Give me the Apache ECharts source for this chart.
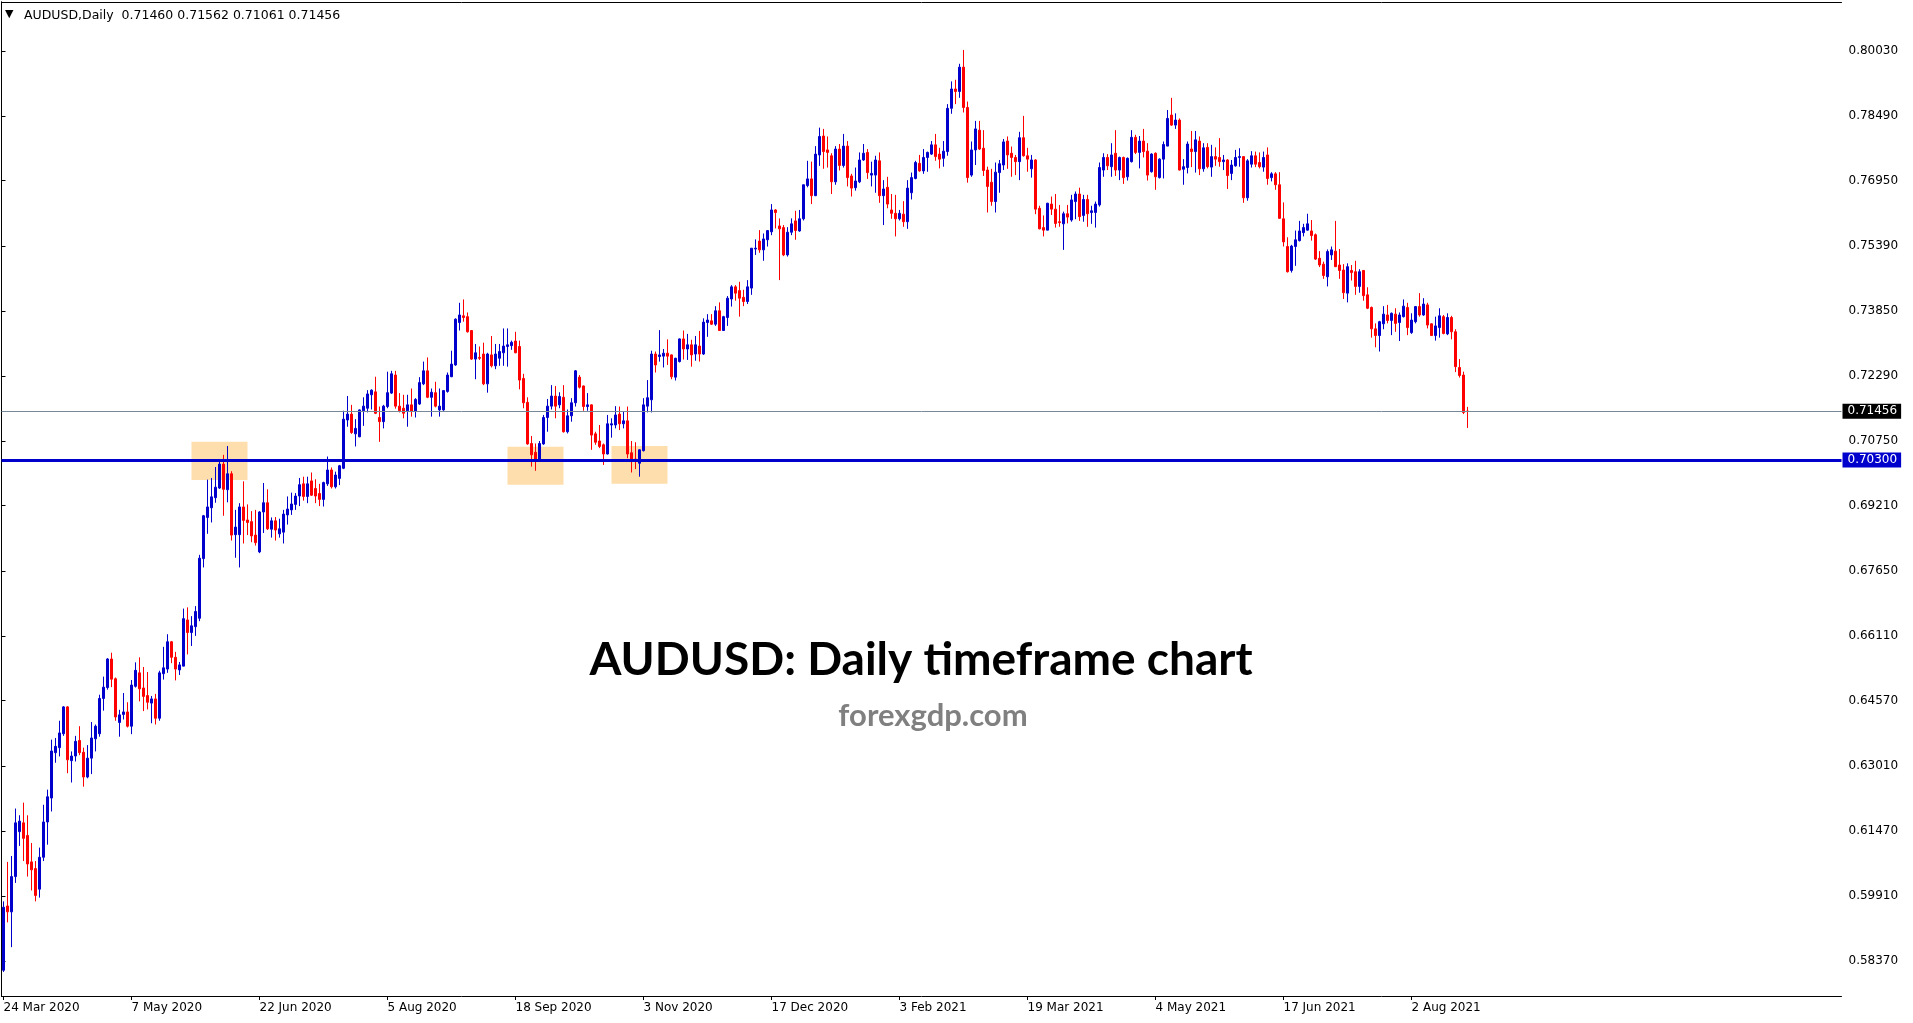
<!DOCTYPE html>
<html><head><meta charset="utf-8">
<script src="https://cdn.jsdelivr.net/npm/echarts@6/dist/echarts.min.js"></script>
<style>html,body{margin:0;padding:0;background:#fff;overflow:hidden}#c{width:1913px;height:1023px}</style>
</head><body><div id="c"></div>
<script>
const SYMBOL = 'AUDUSD';
const TIMEFRAME = 'Daily';
const START_DATE = '2020-03-24';
const SKIP_DAYS = ['12-25', '01-01'];
const MONTHS = ['Jan','Feb','Mar','Apr','May','Jun','Jul','Aug','Sep','Oct','Nov','Dec'];
const LABEL_EVERY = 32;
const TOTAL_SLOTS = 460;
const TITLE = 'AUDUSD: Daily timeframe chart';
const SUBTITLE = 'forexgdp.com';
const SUPPORT = 0.70300;
const Y_MIN = 0.57537, Y_MAX = 0.81201;
const Y_TICKS = [0.58370,0.59910,0.61470,0.63010,0.64570,0.66110,0.67650,0.69210,0.70750,0.72290,0.73850,0.75390,0.76950,0.78490,0.80030];
// zones: [first bar, last bar, low, high]
const ZONES = [[47,61,0.6982,0.7073],[126,140,0.6971,0.7061],[152,166,0.6973,0.7063]];
// daily candles: [open, high, low, close]
const OHLC = [
[0.5815,0.5979,0.5811,0.5965],[0.5968,0.6073,0.5929,0.5954],[0.5954,0.6087,0.5870,0.6038],[0.6038,0.6200,0.6023,0.6166],[0.6145,0.6184,0.6111,0.6170],[0.6166,0.6214,0.6075,0.6129],
[0.6136,0.6184,0.6038,0.6068],[0.6073,0.6118,0.6005,0.6054],[0.6057,0.6075,0.5979,0.5993],[0.6008,0.6107,0.5988,0.6084],[0.6084,0.6209,0.6075,0.6168],[0.6168,0.6245,0.6114,0.6228],
[0.6225,0.6364,0.6193,0.6337],[0.6333,0.6368,0.6309,0.6348],[0.6345,0.6409,0.6324,0.6380],[0.6378,0.6444,0.6373,0.6442],[0.6442,0.6444,0.6284,0.6316],[0.6314,0.6336,0.6262,0.6325],
[0.6325,0.6373,0.6312,0.6360],[0.6362,0.6396,0.6327,0.6333],[0.6334,0.6345,0.6252,0.6275],[0.6275,0.6351,0.6272,0.6320],[0.6320,0.6406,0.6282,0.6368],[0.6366,0.6400,0.6336,0.6396],
[0.6378,0.6471,0.6371,0.6462],[0.6462,0.6514,0.6433,0.6489],[0.6488,0.6558,0.6483,0.6556],[0.6556,0.6571,0.6489,0.6508],[0.6509,0.6512,0.6409,0.6418],[0.6405,0.6435,0.6371,0.6423],
[0.6424,0.6475,0.6412,0.6430],[0.6430,0.6453,0.6393,0.6396],[0.6396,0.6506,0.6377,0.6494],[0.6491,0.6548,0.6488,0.6529],[0.6523,0.6560,0.6455,0.6485],[0.6487,0.6537,0.6432,0.6467],
[0.6469,0.6525,0.6436,0.6453],[0.6451,0.6468,0.6403,0.6461],[0.6461,0.6473,0.6400,0.6415],[0.6415,0.6528,0.6409,0.6523],[0.6521,0.6585,0.6507,0.6535],[0.6532,0.6615,0.6523,0.6597],
[0.6597,0.6599,0.6546,0.6560],[0.6560,0.6573,0.6505,0.6532],[0.6530,0.6549,0.6518,0.6542],[0.6539,0.6676,0.6539,0.6652],[0.6649,0.6679,0.6567,0.6619],[0.6619,0.6658,0.6587,0.6635],
[0.6633,0.6682,0.6611,0.6669],[0.6653,0.6804,0.6646,0.6796],[0.6795,0.6899,0.6774,0.6897],[0.6893,0.6983,0.6854,0.6918],[0.6916,0.6987,0.6881,0.6942],[0.6940,0.7013,0.6928,0.6965],
[0.6963,0.7027,0.6961,0.7020],[0.7020,0.7042,0.6897,0.6960],[0.6959,0.7063,0.6929,0.6997],[0.6997,0.7003,0.6838,0.6851],[0.6852,0.6911,0.6797,0.6870],[0.6852,0.6927,0.6774,0.6918],
[0.6918,0.6979,0.6831,0.6886],[0.6887,0.6924,0.6851,0.6881],[0.6883,0.6908,0.6834,0.6849],[0.6851,0.6911,0.6826,0.6833],[0.6811,0.6908,0.6808,0.6906],[0.6906,0.6975,0.6856,0.6928],
[0.6928,0.6960,0.6863,0.6866],[0.6865,0.6893,0.6845,0.6885],[0.6885,0.6894,0.6838,0.6863],[0.6854,0.6890,0.6845,0.6866],[0.6858,0.6911,0.6831,0.6901],[0.6899,0.6943,0.6876,0.6913],
[0.6911,0.6952,0.6899,0.6925],[0.6924,0.6951,0.6911,0.6944],[0.6944,0.6987,0.6920,0.6971],[0.6973,0.6990,0.6933,0.6943],[0.6943,0.6990,0.6927,0.6973],[0.6980,0.7000,0.6944,0.6946],
[0.6962,0.6984,0.6927,0.6944],[0.6950,0.6973,0.6920,0.6936],[0.6936,0.6978,0.6919,0.6976],[0.6973,0.7038,0.6968,0.7006],[0.7006,0.7012,0.6962,0.6966],[0.6966,0.7002,0.6962,0.6994],
[0.6986,0.7018,0.6970,0.7016],[0.7010,0.7147,0.7008,0.7127],[0.7125,0.7182,0.7109,0.7139],[0.7139,0.7161,0.7092,0.7095],[0.7092,0.7127,0.7062,0.7105],[0.7085,0.7150,0.7084,0.7149],
[0.7147,0.7179,0.7111,0.7158],[0.7153,0.7196,0.7143,0.7187],[0.7185,0.7198,0.7150,0.7196],[0.7192,0.7228,0.7139,0.7141],[0.7131,0.7157,0.7073,0.7121],[0.7121,0.7161,0.7105,0.7158],
[0.7157,0.7240,0.7153,0.7190],[0.7189,0.7242,0.7187,0.7235],[0.7232,0.7242,0.7152,0.7158],[0.7158,0.7189,0.7143,0.7147],[0.7153,0.7185,0.7129,0.7141],[0.7147,0.7185,0.7109,0.7161],
[0.7161,0.7200,0.7133,0.7146],[0.7146,0.7177,0.7131,0.7174],[0.7163,0.7227,0.7161,0.7214],[0.7211,0.7264,0.7208,0.7242],[0.7242,0.7274,0.7177,0.7179],[0.7179,0.7200,0.7133,0.7191],
[0.7190,0.7216,0.7155,0.7158],[0.7149,0.7200,0.7133,0.7158],[0.7149,0.7196,0.7147,0.7195],[0.7193,0.7238,0.7190,0.7232],[0.7228,0.7290,0.7227,0.7258],[0.7256,0.7367,0.7254,0.7365],
[0.7357,0.7404,0.7338,0.7375],[0.7373,0.7412,0.7359,0.7369],[0.7371,0.7381,0.7333,0.7335],[0.7338,0.7339,0.7268,0.7270],[0.7270,0.7306,0.7222,0.7285],[0.7274,0.7300,0.7268,0.7272],
[0.7282,0.7309,0.7208,0.7211],[0.7211,0.7285,0.7190,0.7282],[0.7280,0.7325,0.7250,0.7254],[0.7254,0.7306,0.7246,0.7282],[0.7272,0.7306,0.7254,0.7288],[0.7285,0.7343,0.7254,0.7301],
[0.7300,0.7343,0.7252,0.7304],[0.7302,0.7314,0.7292,0.7310],[0.7313,0.7335,0.7284,0.7285],[0.7300,0.7314,0.7198,0.7220],[0.7224,0.7235,0.7153,0.7166],[0.7167,0.7179,0.7066,0.7068],
[0.7069,0.7087,0.7014,0.7042],[0.7048,0.7069,0.7004,0.7030],[0.7030,0.7075,0.7026,0.7069],[0.7068,0.7137,0.7066,0.7131],[0.7131,0.7175,0.7097,0.7158],[0.7158,0.7208,0.7150,0.7182],
[0.7182,0.7206,0.7129,0.7158],[0.7161,0.7191,0.7153,0.7181],[0.7179,0.7208,0.7095,0.7097],[0.7097,0.7150,0.7093,0.7135],[0.7135,0.7177,0.7121,0.7166],[0.7166,0.7244,0.7157,0.7242],
[0.7227,0.7232,0.7200,0.7203],[0.7206,0.7207,0.7147,0.7157],[0.7157,0.7189,0.7147,0.7161],[0.7161,0.7162,0.7054,0.7089],[0.7092,0.7097,0.7066,0.7072],[0.7075,0.7113,0.7058,0.7062],
[0.7066,0.7069,0.7018,0.7044],[0.7044,0.7137,0.7043,0.7116],[0.7113,0.7129,0.7083,0.7116],[0.7113,0.7158,0.7105,0.7137],[0.7139,0.7157,0.7101,0.7116],[0.7116,0.7146,0.7105,0.7123],
[0.7123,0.7157,0.7034,0.7044],[0.7047,0.7075,0.7000,0.7030],[0.7032,0.7072,0.7008,0.7030],[0.7022,0.7055,0.6990,0.7054],[0.7052,0.7177,0.7050,0.7161],[0.7158,0.7220,0.7143,0.7178],
[0.7173,0.7290,0.7143,0.7282],[0.7282,0.7288,0.7238,0.7256],[0.7276,0.7339,0.7264,0.7280],[0.7277,0.7294,0.7250,0.7284],[0.7284,0.7317,0.7256,0.7277],[0.7280,0.7281,0.7222,0.7228],
[0.7227,0.7273,0.7219,0.7272],[0.7264,0.7319,0.7262,0.7318],[0.7318,0.7338,0.7269,0.7294],[0.7294,0.7330,0.7268,0.7304],[0.7304,0.7316,0.7252,0.7280],[0.7282,0.7325,0.7266,0.7304],
[0.7301,0.7337,0.7264,0.7282],[0.7282,0.7367,0.7280,0.7358],[0.7357,0.7377,0.7323,0.7363],[0.7361,0.7377,0.7351,0.7353],[0.7353,0.7396,0.7349,0.7385],[0.7385,0.7405,0.7337,0.7338],
[0.7338,0.7373,0.7337,0.7371],[0.7369,0.7420,0.7349,0.7415],[0.7413,0.7446,0.7395,0.7442],[0.7442,0.7446,0.7409,0.7427],[0.7433,0.7454,0.7371,0.7415],[0.7417,0.7435,0.7396,0.7407],
[0.7407,0.7458,0.7401,0.7442],[0.7439,0.7534,0.7423,0.7534],[0.7532,0.7555,0.7518,0.7534],[0.7551,0.7577,0.7523,0.7530],[0.7530,0.7569,0.7504,0.7556],[0.7554,0.7577,0.7538,0.7576],
[0.7573,0.7639,0.7565,0.7625],[0.7625,0.7627,0.7581,0.7619],[0.7587,0.7605,0.7458,0.7580],[0.7583,0.7589,0.7515,0.7518],[0.7518,0.7584,0.7514,0.7572],[0.7572,0.7605,0.7565,0.7592],
[0.7599,0.7623,0.7554,0.7576],[0.7575,0.7625,0.7573,0.7604],[0.7604,0.7685,0.7600,0.7685],[0.7683,0.7742,0.7679,0.7699],[0.7699,0.7740,0.7639,0.7659],[0.7659,0.7777,0.7658,0.7758],
[0.7756,0.7821,0.7730,0.7800],[0.7801,0.7818,0.7723,0.7764],[0.7768,0.7800,0.7726,0.7762],[0.7754,0.7760,0.7663,0.7692],[0.7692,0.7777,0.7685,0.7770],[0.7770,0.7782,0.7719,0.7731],
[0.7731,0.7806,0.7726,0.7777],[0.7777,0.7789,0.7681,0.7702],[0.7706,0.7711,0.7657,0.7677],[0.7678,0.7726,0.7671,0.7694],[0.7692,0.7762,0.7689,0.7744],[0.7744,0.7782,0.7742,0.7760],
[0.7762,0.7770,0.7699,0.7714],[0.7708,0.7740,0.7681,0.7712],[0.7708,0.7754,0.7666,0.7744],[0.7742,0.7762,0.7642,0.7659],[0.7659,0.7696,0.7589,0.7675],[0.7679,0.7704,0.7629,0.7639],
[0.7625,0.7663,0.7604,0.7617],[0.7617,0.7661,0.7562,0.7604],[0.7604,0.7625,0.7600,0.7617],[0.7615,0.7646,0.7585,0.7597],[0.7597,0.7696,0.7580,0.7677],[0.7666,0.7714,0.7650,0.7702],
[0.7700,0.7742,0.7698,0.7738],[0.7736,0.7756,0.7716,0.7718],[0.7718,0.7770,0.7711,0.7750],[0.7750,0.7764,0.7716,0.7762],[0.7758,0.7789,0.7756,0.7780],[0.7780,0.7806,0.7742,0.7752],
[0.7758,0.7773,0.7724,0.7746],[0.7748,0.7789,0.7728,0.7765],[0.7764,0.7877,0.7754,0.7867],[0.7867,0.7931,0.7854,0.7913],[0.7913,0.7935,0.7877,0.7907],[0.7907,0.7973,0.7892,0.7965],
[0.7965,0.8006,0.7857,0.7869],[0.7869,0.7883,0.7690,0.7702],[0.7708,0.7788,0.7704,0.7768],[0.7768,0.7837,0.7732,0.7818],[0.7815,0.7837,0.7768,0.7770],[0.7772,0.7815,0.7706,0.7719],
[0.7720,0.7728,0.7619,0.7681],[0.7691,0.7723,0.7635,0.7645],[0.7645,0.7738,0.7619,0.7715],[0.7714,0.7744,0.7666,0.7735],[0.7732,0.7794,0.7720,0.7787],[0.7789,0.7800,0.7723,0.7756],
[0.7760,0.7776,0.7704,0.7750],[0.7750,0.7756,0.7708,0.7740],[0.7740,0.7811,0.7696,0.7797],[0.7797,0.7849,0.7752,0.7754],[0.7754,0.7773,0.7716,0.7746],[0.7723,0.7756,0.7702,0.7744],
[0.7744,0.7746,0.7615,0.7627],[0.7629,0.7635,0.7579,0.7580],[0.7583,0.7612,0.7562,0.7577],[0.7577,0.7642,0.7577,0.7641],[0.7639,0.7657,0.7613,0.7627],[0.7627,0.7663,0.7583,0.7593],
[0.7597,0.7637,0.7585,0.7595],[0.7592,0.7621,0.7530,0.7616],[0.7616,0.7637,0.7593,0.7608],[0.7601,0.7661,0.7597,0.7649],[0.7645,0.7669,0.7603,0.7663],[0.7663,0.7678,0.7599,0.7609],
[0.7612,0.7661,0.7597,0.7650],[0.7650,0.7661,0.7585,0.7616],[0.7619,0.7635,0.7592,0.7623],[0.7619,0.7645,0.7583,0.7639],[0.7637,0.7738,0.7633,0.7726],[0.7720,0.7760,0.7704,0.7750],
[0.7750,0.7758,0.7720,0.7730],[0.7728,0.7784,0.7704,0.7756],[0.7760,0.7815,0.7706,0.7720],[0.7720,0.7752,0.7696,0.7750],[0.7750,0.7752,0.7687,0.7702],[0.7704,0.7750,0.7695,0.7748],
[0.7740,0.7815,0.7738,0.7798],[0.7798,0.7804,0.7758,0.7762],[0.7762,0.7801,0.7724,0.7789],[0.7789,0.7818,0.7750,0.7764],[0.7765,0.7784,0.7695,0.7708],[0.7716,0.7760,0.7714,0.7758],
[0.7760,0.7762,0.7673,0.7704],[0.7702,0.7748,0.7700,0.7746],[0.7746,0.7788,0.7700,0.7781],[0.7777,0.7863,0.7777,0.7843],[0.7851,0.7892,0.7825,0.7827],[0.7827,0.7855,0.7818,0.7839],
[0.7839,0.7843,0.7719,0.7720],[0.7722,0.7746,0.7685,0.7728],[0.7726,0.7788,0.7712,0.7782],[0.7770,0.7813,0.7727,0.7764],[0.7764,0.7813,0.7714,0.7792],[0.7789,0.7800,0.7708,0.7723],
[0.7723,0.7784,0.7716,0.7773],[0.7774,0.7784,0.7724,0.7728],[0.7727,0.7780,0.7704,0.7752],[0.7752,0.7774,0.7730,0.7746],[0.7750,0.7796,0.7728,0.7740],[0.7740,0.7756,0.7720,0.7744],
[0.7744,0.7746,0.7675,0.7707],[0.7712,0.7744,0.7696,0.7732],[0.7730,0.7768,0.7728,0.7750],[0.7750,0.7772,0.7728,0.7752],[0.7752,0.7753,0.7642,0.7654],[0.7654,0.7746,0.7647,0.7742],
[0.7734,0.7765,0.7726,0.7754],[0.7754,0.7764,0.7727,0.7734],[0.7738,0.7762,0.7724,0.7728],[0.7727,0.7764,0.7716,0.7750],[0.7756,0.7774,0.7685,0.7700],[0.7702,0.7715,0.7693,0.7711],
[0.7711,0.7715,0.7673,0.7685],[0.7685,0.7715,0.7604,0.7605],[0.7604,0.7643,0.7538,0.7549],[0.7538,0.7560,0.7476,0.7478],[0.7481,0.7542,0.7476,0.7539],[0.7538,0.7576,0.7492,0.7554],
[0.7552,0.7599,0.7550,0.7575],[0.7571,0.7592,0.7562,0.7583],[0.7577,0.7616,0.7576,0.7592],[0.7575,0.7601,0.7552,0.7564],[0.7566,0.7569,0.7506,0.7508],[0.7510,0.7527,0.7489,0.7494],
[0.7496,0.7502,0.7461,0.7469],[0.7466,0.7531,0.7443,0.7526],[0.7518,0.7538,0.7506,0.7530],[0.7527,0.7599,0.7489,0.7490],[0.7494,0.7532,0.7461,0.7481],[0.7482,0.7496,0.7413,0.7428],
[0.7427,0.7498,0.7405,0.7490],[0.7481,0.7494,0.7457,0.7476],[0.7478,0.7504,0.7423,0.7443],[0.7443,0.7484,0.7428,0.7478],[0.7481,0.7482,0.7409,0.7421],[0.7423,0.7441,0.7389,0.7391],
[0.7393,0.7395,0.7321,0.7342],[0.7342,0.7355,0.7298,0.7326],[0.7326,0.7361,0.7288,0.7359],[0.7354,0.7396,0.7341,0.7377],[0.7375,0.7399,0.7355,0.7362],[0.7362,0.7381,0.7327,0.7379],
[0.7377,0.7391,0.7335,0.7355],[0.7357,0.7381,0.7313,0.7375],[0.7371,0.7412,0.7369,0.7396],[0.7393,0.7404,0.7327,0.7345],[0.7333,0.7379,0.7330,0.7363],[0.7359,0.7396,0.7355,0.7395],
[0.7395,0.7427,0.7371,0.7375],[0.7375,0.7415,0.7373,0.7401],[0.7399,0.7404,0.7343,0.7351],[0.7354,0.7355,0.7325,0.7326],[0.7326,0.7371,0.7314,0.7349],[0.7345,0.7391,0.7321,0.7373],
[0.7371,0.7375,0.7329,0.7331],[0.7330,0.7379,0.7327,0.7369],[0.7369,0.7373,0.7317,0.7335],[0.7335,0.7341,0.7239,0.7252],[0.7250,0.7270,0.7226,0.7231],[0.7232,0.7240,0.7139,0.7143],
[0.71460,0.71562,0.71061,0.71456]
];

// trading-day categories (weekdays, broker holidays skipped)
const DATES = (function () {
  const out = [];
  const d = new Date(START_DATE + 'T00:00:00Z');
  while (out.length < TOTAL_SLOTS) {
    const wd = d.getUTCDay();
    const md = String(d.getUTCMonth() + 1).padStart(2, '0') + '-' + String(d.getUTCDate()).padStart(2, '0');
    if (wd !== 0 && wd !== 6 && SKIP_DAYS.indexOf(md) < 0) {
      out.push(d.getUTCDate() + ' ' + MONTHS[d.getUTCMonth()] + ' ' + d.getUTCFullYear());
    }
    d.setUTCDate(d.getUTCDate() + 1);
  }
  return out;
})();

const LAST = OHLC[OHLC.length - 1];
const HEADER = SYMBOL + ',' + TIMEFRAME + '  ' + LAST.map(v => v.toFixed(5)).join(' ');
const FONT = 'DejaVu Sans';
const showLabel = (i) => i % LABEL_EVERY === 0 && i < OHLC.length;

const chart = echarts.init(document.getElementById('c'), null, {renderer: 'canvas'});
chart.setOption({
  animation: false,
  backgroundColor: '#ffffff',
  grid: {left: 1.5, top: 2, width: 1840, height: 994, show: false},
  xAxis: [{
    type: 'category', data: DATES, boundaryGap: true,
    axisLine: {show: true, lineStyle: {color: '#000', width: 1}},
    axisTick: {show: true, alignWithLabel: true, interval: showLabel, length: 4, lineStyle: {color: '#000'}},
    axisLabel: {interval: showLabel, align: 'left', color: '#000', fontFamily: FONT, fontSize: 12, margin: 6},
    splitLine: {show: false}
  }, {
    type: 'value', position: 'top', min: 0, max: 1,
    axisLine: {show: true, onZero: false, lineStyle: {color: '#000', width: 1}},
    axisTick: {show: false}, axisLabel: {show: false}, splitLine: {show: false}
  }],
  yAxis: [{
    type: 'value', position: 'right', min: Y_MIN, max: Y_MAX,
    axisLine: {show: true, lineStyle: {color: '#000', width: 1}},
    axisTick: {show: true, length: 4, customValues: Y_TICKS, lineStyle: {color: '#000'}},
    axisLabel: {customValues: Y_TICKS, formatter: v => v.toFixed(5), color: '#000', fontFamily: FONT, fontSize: 12, margin: 7},
    splitLine: {show: false}
  }, {
    type: 'value', position: 'left', min: 0, max: 1,
    axisLine: {show: true, onZero: false, lineStyle: {color: '#000', width: 1}},
    axisTick: {show: false}, axisLabel: {show: false}, splitLine: {show: false}
  }],
  series: [
    {
      type: 'line', data: [], z: 1, silent: true,
      markArea: {
        silent: true,
        itemStyle: {color: '#FFDEAD', opacity: 1},
        data: ZONES.map(zn => [{xAxis: zn[0], yAxis: zn[3]}, {xAxis: zn[1], yAxis: zn[2]}])
      }
    },
    {
      type: 'line', data: [], z: 2, silent: true,
      markLine: {
        silent: true, symbol: ['none', 'none'], animation: false, precision: 5,
        data: [{
          yAxis: LAST[3],
          lineStyle: {color: '#778899', width: 1, type: 'solid'},
          label: {show: true, position: 'end', distance: 1, formatter: () => LAST[3].toFixed(5),
                  color: '#fff', backgroundColor: '#000', padding: [2, 4, 1, 5], fontFamily: FONT, fontSize: 12}
        }]
      }
    },
    {
      type: 'candlestick', z: 3,
      data: OHLC.map(r => [r[0], r[3], r[2], r[1]]),
      barWidth: 2,
      itemStyle: {color: '#0000CD', color0: '#FF0000', borderColor: '#0000CD', borderColor0: '#FF0000', borderWidth: 1}
    },
    {
      type: 'line', data: [], z: 4, silent: true,
      markLine: {
        silent: true, symbol: ['none', 'none'], animation: false, precision: 5,
        data: [{
          yAxis: SUPPORT,
          lineStyle: {color: '#0000CD', width: 3, type: 'solid'},
          label: {show: true, position: 'end', distance: 1, formatter: () => SUPPORT.toFixed(5),
                  color: '#fff', backgroundColor: '#0000CD', padding: [2, 4, 1, 5], fontFamily: FONT, fontSize: 12}
        }]
      }
    }
  ],
  graphic: [
    {type: 'text', left: 5, top: 9, z: 10, style: {text: '\u25BC', font: '11px "DejaVu Sans"', fill: '#000'}},
    {type: 'text', left: 24, top: 9, z: 10, style: {text: HEADER, font: '12.5px "DejaVu Sans"', fill: '#000'}},
    {type: 'text', x: 921, y: 660, z: 10, style: {text: TITLE, font: 'bold 46px Lato', fill: '#000', textAlign: 'center', textVerticalAlign: 'middle', align: 'center', verticalAlign: 'middle'}},
    {type: 'text', x: 933, y: 716, z: 10, style: {text: SUBTITLE, font: 'bold 31px Lato', fill: '#808080', textAlign: 'center', textVerticalAlign: 'middle', align: 'center', verticalAlign: 'middle'}}
  ]
});
</script>
</body></html>
